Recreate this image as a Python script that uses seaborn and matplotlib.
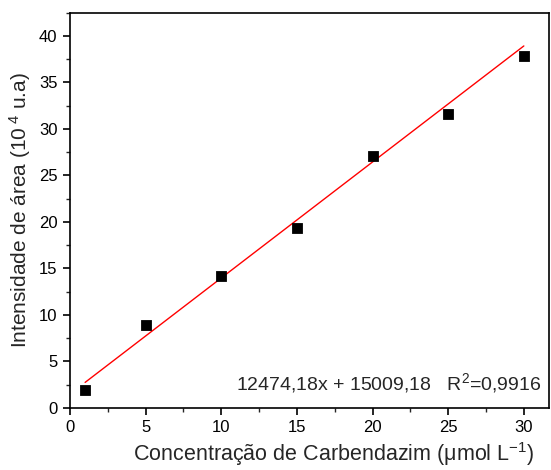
import matplotlib
matplotlib.use("Agg")
import matplotlib.pyplot as plt
import seaborn as sns
import numpy as np
import pandas as pd
from matplotlib.ticker import MultipleLocator

conc = [1, 5, 10, 15, 20, 25, 30]
intensity = [1.9, 8.9, 14.2, 19.3, 27.1, 31.6, 37.8]
slope = 1.247418   # 12474,18 in units of 10^4
intercept = 1.500918
eq_text = r"12474,18x + 15009,18   R$^2$=0,9916"

sns.set_theme(style="ticks")
plt.rcParams['font.family'] = ['Liberation Sans', 'DejaVu Sans']
plt.rcParams['mathtext.fontset'] = 'custom'
plt.rcParams['mathtext.rm'] = 'Liberation Sans'
plt.rcParams['mathtext.it'] = 'Liberation Sans:italic'
plt.rcParams['mathtext.default'] = 'regular'

df = pd.DataFrame({"x": conc, "y": intensity})
fit = pd.DataFrame({"x": [conc[0], conc[-1]]})
fit["y"] = slope * fit["x"] + intercept

fig = plt.figure(figsize=(5.51, 4.70), dpi=100)
ax = fig.add_axes([0.127, 0.132, 0.869, 0.841])

sns.lineplot(data=fit, x="x", y="y", ax=ax, color="red", linewidth=1.0)
sns.scatterplot(data=df, x="x", y="y", ax=ax, marker="s", s=55, color="black",
                edgecolor="black", zorder=3)

ax.set_xlim(0, 31.65)
ax.set_ylim(0, 42.5)
ax.xaxis.set_major_locator(MultipleLocator(5))
ax.xaxis.set_minor_locator(MultipleLocator(2.5))
ax.yaxis.set_major_locator(MultipleLocator(5))
ax.yaxis.set_minor_locator(MultipleLocator(2.5))
ax.tick_params(which="major", direction="out", length=5, width=1.2, labelsize=12, colors="black", pad=4)
ax.tick_params(which="minor", direction="out", length=3, width=1.0)
ax.tick_params(top=False, right=False, which="both")
for sp in ax.spines.values():
    sp.set_linewidth(1.2)
    sp.set_color("black")

ax.set_xlabel(r"Concentração de Carbendazim ($\mu$mol L$^{-1}$)", fontsize=15.5, labelpad=3, x=0.55)
ax.set_ylabel(r"Intensidade de área (10$^{\ 4}$ u.a)", fontsize=15, labelpad=4)
ax.text(0.985, 0.062, eq_text, transform=ax.transAxes, ha="right", va="center", fontsize=14)

fig.savefig("out.png", dpi=100)
